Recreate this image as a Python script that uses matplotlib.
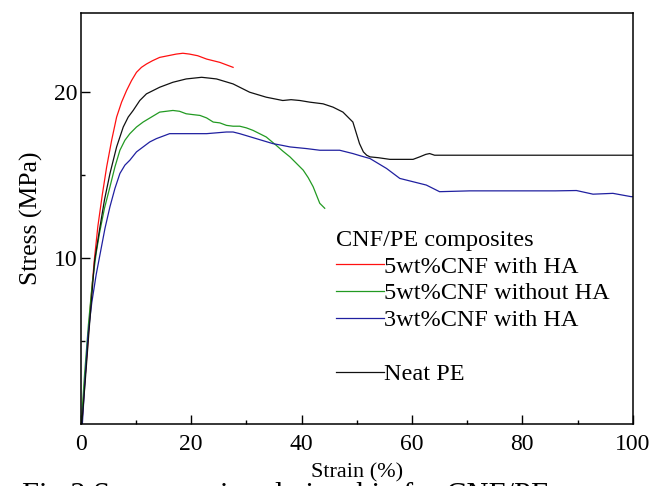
import matplotlib
matplotlib.use('Agg')
import matplotlib.pyplot as plt
from matplotlib.lines import Line2D

plt.rcParams['font.family'] = ['Liberation Serif', 'DejaVu Serif']

# Curvas tensao-deformacao
red_x = [0.2, 0.6, 1.2, 1.8, 2.5, 3.1, 3.9, 4.7, 5.6, 6.5, 7.4, 8.3, 9.2, 10.1, 11.0, 11.9, 13.0, 14.3,
         15.8, 17.3, 18.5, 19.7, 21.2, 22.8, 24.0, 25.2, 26.4, 27.6]
red_y = [0, 2.0, 4.5, 7.3, 10.0, 11.9, 13.8, 15.5, 17.1, 18.5, 19.4, 20.1, 20.7, 21.2, 21.5, 21.7, 21.9, 22.1,
         22.2, 22.3, 22.35, 22.3, 22.2, 22.0, 21.9, 21.8, 21.65, 21.5]

green_x = [0.1, 0.7, 1.4, 2.1, 2.8, 3.4, 4.3, 5.3, 6.2, 7.1, 8.0, 8.9, 10.1, 11.3, 12.8, 14.3, 15.5, 16.7,
           17.9, 19.1, 20.3, 21.6, 22.8, 24.0, 25.2, 26.4, 27.6, 28.8, 30.0, 31.2, 32.4, 33.6, 34.5, 35.4,
           36.6, 37.9, 39.1, 40.3, 41.2, 42.1, 42.7, 43.3, 44.2]
green_y = [0, 3.0, 6.0, 8.5, 10.3, 11.5, 13.0, 14.3, 15.5, 16.5, 17.1, 17.5, 17.9, 18.2, 18.5, 18.8, 18.85, 18.9,
           18.85, 18.7, 18.65, 18.6, 18.45, 18.2, 18.15, 18.0, 17.95, 17.95, 17.85, 17.7, 17.5, 17.3, 17.05, 16.8,
           16.45, 16.1, 15.7, 15.3, 14.85, 14.3, 13.8, 13.3, 13.0]

blue_x = [0.3, 0.8, 1.3, 2.0, 2.8, 3.6, 4.4, 5.3, 6.2, 7.1, 8.0, 8.9, 10.1, 11.3, 12.5, 13.7, 14.9, 16.1,
          17.6, 19.1, 21.0, 22.8, 24.6, 26.4, 27.6, 28.8, 30.3, 31.8, 33.3, 34.8, 36.4, 37.9, 40.9, 43.3,
          46.9, 49.3, 50.8, 52.4, 53.9, 55.4, 56.6, 57.8, 59.6, 61.4, 62.6, 63.8, 65.0, 70.5, 76.5, 82.6,
          86.0, 89.8, 92.8, 96.4, 99.7, 100]
blue_y = [0, 2.8, 5.3, 7.3, 9.0, 10.4, 11.8, 13.1, 14.2, 15.1, 15.6, 15.9, 16.4, 16.7, 17.0, 17.2, 17.35, 17.5,
          17.5, 17.5, 17.5, 17.5, 17.55, 17.6, 17.6, 17.5, 17.35, 17.2, 17.05, 16.9, 16.8, 16.7, 16.6, 16.5,
          16.5, 16.3, 16.15, 16.0, 15.7, 15.4, 15.1, 14.8, 14.65, 14.5, 14.4, 14.2, 14.0, 14.05, 14.05, 14.05,
          14.05, 14.07, 13.85, 13.9, 13.7, 13.7]

black_x = [0.2, 0.8, 1.5, 2.5, 3.4, 4.3, 5.3, 6.5, 7.7, 8.6, 9.5, 10.7, 11.9, 13.1, 14.3, 15.5, 16.7, 17.9,
           19.1, 20.5, 21.9, 23.3, 24.6, 26.1, 27.6, 29.1, 30.6, 32.1, 33.6, 35.1, 36.6, 38.1, 39.7, 41.5,
           43.9, 45.7, 47.5, 48.4, 49.3, 50.5, 51.2, 51.8, 52.4, 53.9, 56.0, 58.0, 60.2, 61.4, 62.5, 63.2,
           64.1, 100]
black_y = [0, 2.5, 5.6, 9.8, 11.7, 13.5, 15.1, 16.7, 17.9, 18.5, 18.9, 19.5, 19.9, 20.1, 20.3, 20.45, 20.6, 20.7,
           20.8, 20.85, 20.9, 20.85, 20.8, 20.65, 20.5, 20.25, 20.0, 19.85, 19.7, 19.6, 19.5, 19.55, 19.5, 19.4,
           19.3, 19.1, 18.8, 18.5, 18.2, 16.9, 16.4, 16.2, 16.1, 16.05, 15.95, 15.95, 15.95, 16.1, 16.25, 16.3,
           16.2, 16.2]

labels = ['5wt%CNF with HA', '5wt%CNF without HA', '3wt%CNF with HA', 'Neat PE']
cores = ['#ff1010', '#229a22', '#2020a0', '#111111']

fig = plt.figure(figsize=(6.51, 4.86), dpi=100)
ax = fig.add_axes([0.124, 0.128, 0.848, 0.846])

curvas = [(red_x, red_y), (green_x, green_y), (blue_x, blue_y), (black_x, black_y)]
linhas = []
for (x, y), cor, lab in zip(curvas, cores, labels):
    l, = ax.plot(x, y, color=cor, lw=0.9, label=lab)
    linhas.append(l)

ax.set_xlim(0, 100)
ax.set_ylim(0, 24.8)
ax.set_xticks([0, 20, 40, 60, 80, 100])
ax.set_xticks([10, 30, 50, 70, 90], minor=True)
ax.set_yticks([10, 20])
ax.set_yticks([5, 15], minor=True)
ax.tick_params(which='both', direction='in', labelsize=17, width=1.0)
ax.tick_params(which='major', length=6.5)
ax.tick_params(which='minor', length=3)
ax.tick_params(axis='x', pad=7)
ax.tick_params(axis='y', pad=2)
for s in ax.spines.values():
    s.set_linewidth(1.1)

ax.set_ylabel('Stress (MPa)', fontsize=18.5, labelpad=8)
ax.set_xlabel('Strain (%)', fontsize=16, labelpad=6,
              bbox=dict(facecolor='white', edgecolor='none', pad=1))

# legenda com uma linha vazia antes do PE puro
vazio = Line2D([], [], linestyle='none')
handles = [linhas[0], linhas[1], linhas[2], vazio, linhas[3]]
leg_labels = labels[:3] + [' ', labels[3]]
leg = ax.legend(handles, leg_labels, title='CNF/PE composites', loc='upper left',
                bbox_to_anchor=(0.462, 0.472), frameon=False, fontsize=17.5, title_fontsize=17.5,
                handlelength=2.0, handletextpad=0.0, labelspacing=0.2, borderpad=0, borderaxespad=0)
leg._legend_box.align = 'left'

# legenda da figura cortada na borda inferior
fig.text(0.034, -0.038, 'Fig.2 Stress-strain relationship for CNF/PE composites', fontsize=22,
         ha='left', va='baseline', zorder=0)

fig.savefig('out.png', dpi=100)
